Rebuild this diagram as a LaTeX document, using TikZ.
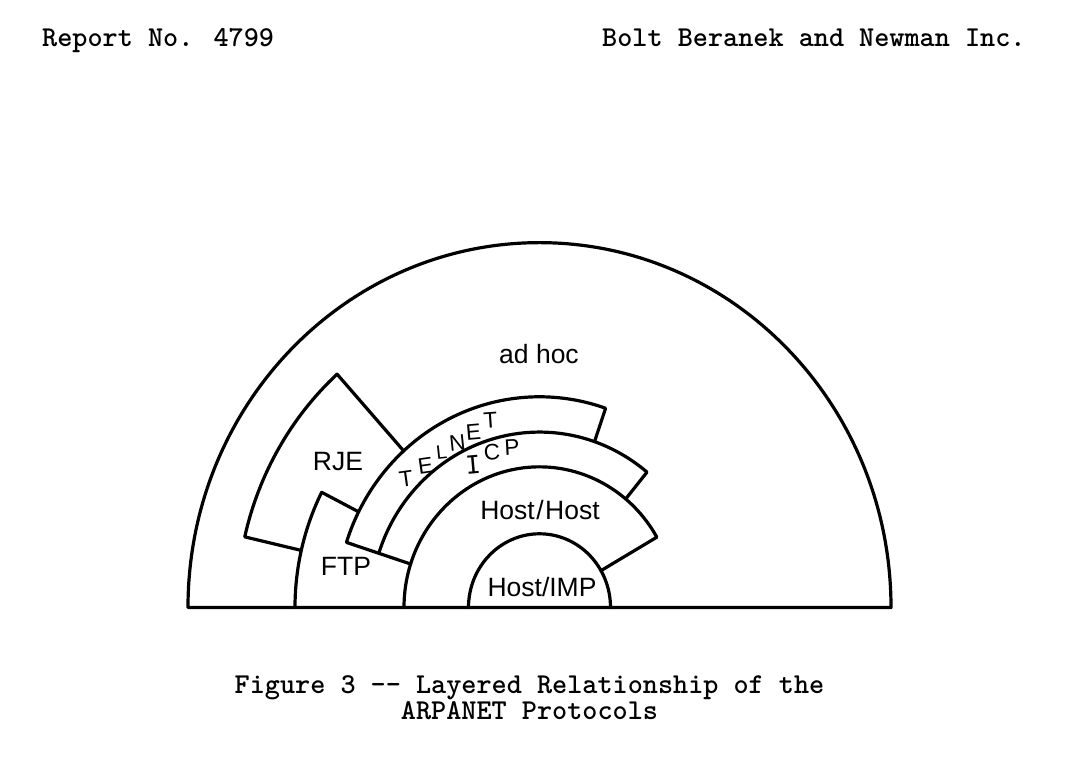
\documentclass[tikz,border=0pt]{standalone}
\usepackage{fontspec}
\newfontfamily\lbl{Liberation Sans}
\newfontfamily\lblI{DejaVu Sans Mono}
\begin{document}
\begin{tikzpicture}[x=1pt,y=1pt,
  ln/.style={line width=3.2pt, line join=round, line cap=round},
  lab/.style={font=\lbl\fontsize{26.5}{27}\selectfont, inner sep=0pt},
  arclab/.style={font=\lbl\fontsize{22.5}{23}\selectfont, inner sep=0pt},
  tw/.style={font=\ttfamily\bfseries\fontsize{28.8}{26.5}\selectfont, inner sep=0pt}]
\useasboundingbox (0,0) rectangle (1072,758);
% header and caption
\node[tw, anchor=base west] (rep) at (42,711) {Report No. 4799};
\node[tw, anchor=base west] (bbn) at (602,711) {Bolt Beranek and Newman Inc.};
\node[tw, anchor=north, align=center] (cap) at (529.5,83)
  {Figure 3 -\kern0pt- Layered Relationship of the\\ARPANET Protocols};
% layered half-disc
\begin{scope}[shift={(539.5,150.5)}, yscale=1.038]
  \draw[ln] (180:351.5) -- (0:351.5) arc[start angle=0, end angle=180, radius=351.5pt];
  \draw[ln] (0:71) arc[start angle=0, end angle=180, radius=71pt];
  \draw[ln] (180:135.5) arc[start angle=180, end angle=30, radius=135.5pt] -- (30:71);
  \draw[ln] (162:169) arc[start angle=162, end angle=50.5, radius=169pt] -- (50.5:135.5);
  \draw[ln] (162:135.5) -- (162:203) arc[start angle=162, end angle=71, radius=203pt] -- (71:169);
  \draw[ln] (180:244.5) arc[start angle=180, end angle=153, radius=244.5pt] -- (153:203);
  \draw[ln] (167:244.5) -- (167:302.5) arc[start angle=167, end angle=132, radius=302.5pt] -- (132:203);
\end{scope}
% labels
\node[lab] (adhoc) at (539,404) {ad hoc};
\node[lab] (rje) at (338,296) {RJE};
\node[lab] (ftp) at (346,192) {FTP};
\node[lab] (hh) at (540,248) {Host\kern1.5pt/\kern1.5pt Host};
\node[lab] (hi) at (542,171) {Host/IMP};
% TELNET along its band
\node[arclab, rotate=8] (t1) at (406,279) {T};
\node[arclab, rotate=8] (t2) at (425.5,292.5) {E};
\node[arclab, rotate=6, font=\lbl\fontsize{19.5}{20}\selectfont] (t3) at (441.5,305.5) {L};
\node[arclab, rotate=6] (t4) at (457.5,315) {N};
\node[arclab, rotate=5] (t5) at (473.5,326) {E};
\node[arclab, rotate=4] (t6) at (490.5,338) {T};
% ICP along its band
\node[arclab, rotate=5, font=\lblI\fontsize{25}{25}\selectfont] (i1) at (473,293) {I};
\node[arclab, rotate=4] (i2) at (492,306) {C};
\node[arclab, rotate=3] (i3) at (512,311) {P};
\end{tikzpicture}
\end{document}
